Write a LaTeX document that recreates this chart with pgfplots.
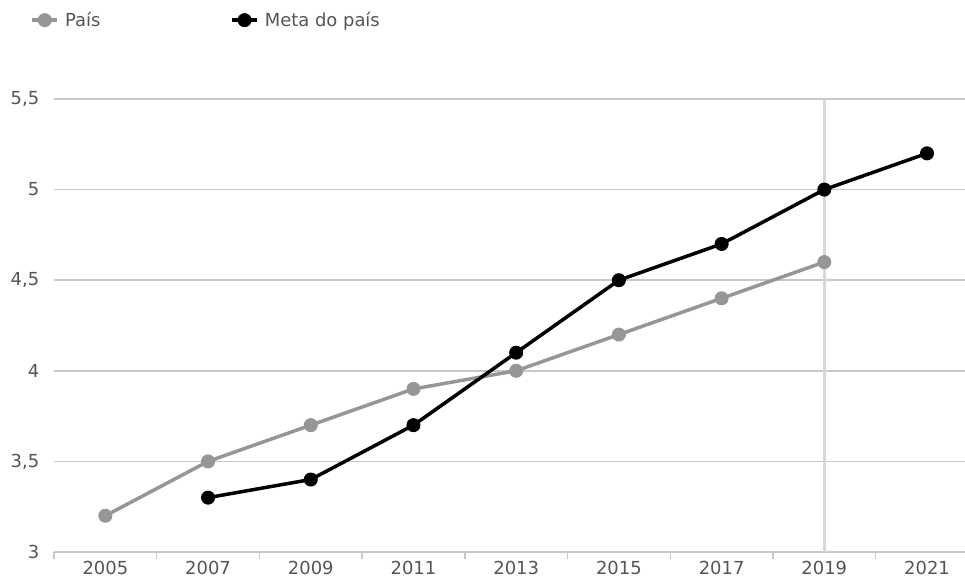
\documentclass[border=0pt]{standalone}
\usepackage{pgfplots}
\pgfplotsset{compat=1.18}
\usepackage{fontspec}
\setmainfont{DejaVu Sans}
\definecolor{txt}{RGB}{85,85,85}
\definecolor{grid}{RGB}{200,200,200}
\definecolor{pais}{RGB}{150,150,150}
\definecolor{vline}{RGB}{215,215,215}
\begin{document}
\begin{tikzpicture}[x=1bp,y=1bp]
\useasboundingbox (0,0) rectangle (965,579);
\begin{axis}[
  at={(54bp,27bp)}, anchor=south west,
  scale only axis, width=911bp, height=453bp,
  xmin=-0.5, xmax=8.37, ymin=3, ymax=5.5,
  clip=false,
  axis x line*=bottom, axis y line*=left,
  x axis line style={draw=grid, line width=1.5bp, -},
  y axis line style={draw=none},
  xtick={0,...,8},
  xticklabels={2005,2007,2009,2011,2013,2015,2017,2019,2021},
  minor xtick={-0.5,0.5,...,7.5},
  major x tick style={draw=none},
  minor x tick style={draw=grid, line width=1.5bp},
  minor tick length=7bp,
  tick align=outside,
  ytick={3,3.5,...,5.5},
  y tick style={draw=none},
  ymajorgrids, major grid style={draw=grid, line width=1.5bp},
  /pgf/number format/use comma,
  /pgf/number format/assume math mode=true,
  yticklabel style={font=\fontsize{18}{21}\selectfont, text=txt, xshift=-7bp},
  xticklabel style={font=\fontsize{18}{21}\selectfont, text=txt, yshift=-1bp},
  legend style={draw=none, fill=none, at={(-0.026,1.174)}, anchor=west, inner sep=0pt,
    font=\fontsize{18}{21}\selectfont, text=txt, legend columns=2,
    /tikz/every even column/.append style={column sep=124bp},
    nodes={inner xsep=6bp}},
  legend image code/.code={
    \draw[#1, mark=none] (0bp,0bp) -- (25bp,0bp);
    \path[#1, only marks] plot coordinates {(12.5bp,0bp)};
  },
]
\addplot[vline, line width=3bp, forget plot] coordinates {(7,3) (7,5.5)};
\addplot[pais, line width=3.5bp, mark=*, mark size=6.5bp, mark options={solid, fill=pais, draw=pais, line width=1bp}] coordinates {
(0,3.2) (1,3.5) (2,3.7) (3,3.9) (4,4.0) (5,4.2) (6,4.4) (7,4.6)};
\addlegendentry{País}
\addplot[black, line width=3.5bp, mark=*, mark size=6.5bp, mark options={solid, fill=black, draw=black, line width=1bp}] coordinates {
(1,3.3) (2,3.4) (3,3.7) (4,4.1) (5,4.5) (6,4.7) (7,5.0) (8,5.2)};
\addlegendentry{Meta do país}
\end{axis}
\end{tikzpicture}
\end{document}
